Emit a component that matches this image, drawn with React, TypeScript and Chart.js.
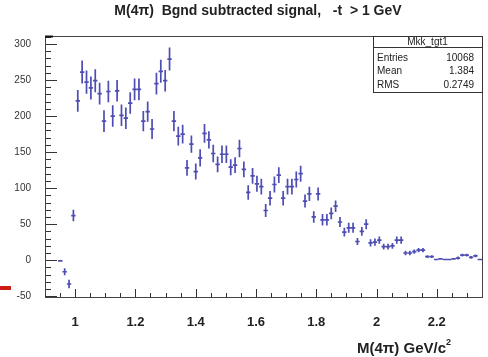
import React, { useEffect, useRef } from "react";
import { Chart, registerables } from "chart.js";

Chart.register(...registerables);

// Histogram binning (100 bins between 0.9 and 2.35)
const X_MIN = 0.9;
const X_MAX = 2.35;
const BIN_WIDTH = 0.0145;
const Y_MIN = -51;
const Y_MAX = 311;

// Bin contents (background subtracted)
const counts: (number | null)[] = [
  null, null, null, -1, -16, -33, 62, 221, 261, 247,
  239, 249, 231, 193, 234, 200, 235, 201, 197, 218,
  237, 237, 193, 206, 182, 245, 262, 249, 279, 193,
  172, 175, 128, 161, 123, 142, 176, 167, 148, 133,
  147, 147, 129, 132, 155, 126, 94, 117, 106, 102,
  69, 86, 105, 118, 86, 102, 102, 112, 120, 82,
  92, 60, 92, 56, 56, 65, 75, 53, 39, 45,
  45, 26, 40, 50, 24, 25, 28, 19, 19, 20,
  28, 28, 10, 10, 12, 14, 14, 5, 5, 1,
  2, 1, 1, 2, 3, 7, 7, 4, 6, 1,
];

// Bin errors
const errors: number[] = [
  0, 0, 0, 1, 5, 6, 8, 15, 16, 16,
  16, 16, 15, 15, 15, 15, 15, 15, 15, 15,
  15, 15, 14, 14, 14, 15, 16, 15, 16, 14,
  13, 13, 11, 12, 11, 12, 13, 12, 12, 11,
  12, 12, 11, 11, 12, 11, 10, 11, 11, 11,
  9, 10, 11, 11, 10, 11, 11, 11, 11, 9,
  10, 8, 9, 8, 8, 8, 8, 7, 6, 7,
  7, 5, 6, 7, 5, 5, 5, 4, 4, 4,
  5, 5, 3, 3, 3, 3, 3, 2, 2, 1,
  1, 1, 1, 1, 2, 2, 2, 2, 2, 1,
];

const xTickValues = [1, 1.2, 1.4, 1.6, 1.8, 2, 2.2];
const xTickLabels = ["1", "1.2", "1.4", "1.6", "1.8", "2", "2.2"];
const yTickValues = [-50, 0, 50, 100, 150, 200, 250, 300];
const yTickLabels = ["-50", "0", "50", "100", "150", "200", "250", "300"];

const TITLE = "M(4\u03c0)  Bgnd subtracted signal,   -t  > 1 GeV";
const X_TITLE = "M(4\u03c0) GeV/c";
const STATS_NAME = "Mkk_tgt1";
const statsLabels = ["Entries", "Mean", "RMS"];
const statsValues = ["10068", "1.384", "0.2749"];

const BLUE = "rgba(52, 52, 170, 0.88)";
const FONT = "'Liberation Sans', Arial, Helvetica, sans-serif";

const rootStyle = {
  id: "rootStyle",
  afterDatasetsDraw(chart: any) {
    const { ctx, scales } = chart;
    const x = scales.x;
    const y = scales.y;
    ctx.save();
    ctx.strokeStyle = BLUE;
    ctx.lineWidth = 1.7;
    counts.forEach((v, i) => {
      if (v === null) return;
      const c = X_MIN + BIN_WIDTH * (i + 0.5);
      const px = x.getPixelForValue(c);
      const py = y.getPixelForValue(v);
      ctx.beginPath();
      ctx.moveTo(x.getPixelForValue(c - BIN_WIDTH / 2), py);
      ctx.lineTo(x.getPixelForValue(c + BIN_WIDTH / 2), py);
      const e = errors[i];
      if (e > 0) {
        ctx.moveTo(px, y.getPixelForValue(v + e));
        ctx.lineTo(px, y.getPixelForValue(v - e));
      }
      ctx.stroke();
    });
    ctx.restore();
  },
  afterDraw(chart: any) {
    const { ctx, chartArea, scales } = chart;
    const x = scales.x;
    const y = scales.y;
    const { left, right, top, bottom } = chartArea;
    ctx.save();

    // ticks (inside the frame)
    ctx.strokeStyle = "#333";
    ctx.lineWidth = 1;
    ctx.beginPath();
    for (let k = 0; k <= 29; k++) {
      const v = X_MIN + k * 0.05;
      const px = Math.round(x.getPixelForValue(v)) + 0.5;
      const major = xTickValues.some((t) => Math.abs(t - v) < 1e-6);
      ctx.moveTo(px, bottom);
      ctx.lineTo(px, bottom - (major ? 8 : 4));
    }
    for (let v = -50; v <= 310; v += 10) {
      const py = Math.round(y.getPixelForValue(v)) + 0.5;
      const major = v % 50 === 0;
      ctx.moveTo(left, py);
      ctx.lineTo(left + (major ? 12 : 6), py);
    }
    ctx.stroke();

    // frame
    ctx.strokeStyle = "#444";
    ctx.lineWidth = 1;
    ctx.strokeRect(Math.round(left) + 0.5, Math.round(top) + 0.5, Math.round(right - left), Math.round(bottom - top));
    ctx.lineWidth = 2;
    ctx.strokeStyle = "#111";
    ctx.beginPath();
    ctx.moveTo(left, top + 0.5);
    ctx.lineTo(left + 8, top + 0.5);
    ctx.stroke();

    // title
    ctx.fillStyle = "#222";
    ctx.font = `bold 14px ${FONT}`;
    ctx.textAlign = "center";
    ctx.textBaseline = "middle";
    ctx.fillText(TITLE, 258, 11);

    // x-axis title
    ctx.font = `bold 15px ${FONT}`;
    ctx.textAlign = "right";
    ctx.fillText(X_TITLE, 446, 349);
    ctx.font = `bold 9px ${FONT}`;
    ctx.textAlign = "left";
    ctx.fillText("2", 446, 343);

    // stats box
    const bx0 = 373, bx1 = right, by0 = top, by1 = 92, hy = 47.5;
    ctx.fillStyle = "#fff";
    ctx.fillRect(bx0, by0, bx1 - bx0, by1 - by0);
    ctx.strokeStyle = "#333";
    ctx.lineWidth = 1;
    ctx.strokeRect(bx0 + 0.5, by0 + 0.5, bx1 - bx0, by1 - by0);
    ctx.beginPath();
    ctx.moveTo(bx0, hy);
    ctx.lineTo(bx1, hy);
    ctx.stroke();
    ctx.fillStyle = "#222";
    ctx.font = `10px ${FONT}`;
    ctx.textAlign = "center";
    ctx.fillText(STATS_NAME, (bx0 + bx1) / 2, 42);
    const rowsY = [58.5, 71.5, 85];
    statsLabels.forEach((lab, i) => {
      ctx.textAlign = "left";
      ctx.fillText(lab, 377, rowsY[i]);
      ctx.textAlign = "right";
      ctx.fillText(statsValues[i], 474, rowsY[i]);
    });

    // red mark on the left edge
    ctx.fillStyle = "#cc1a14";
    ctx.fillRect(0, 286, 11, 4);

    ctx.restore();
  },
};

export default function App() {
  const ref = useRef<HTMLCanvasElement | null>(null);

  useEffect(() => {
    if (!ref.current) return;
    const points = counts
      .map((v, i) => (v === null ? null : { x: X_MIN + BIN_WIDTH * (i + 0.5), y: v }))
      .filter((p) => p !== null);
    const chart = new Chart(ref.current, {
      type: "scatter",
      data: {
        datasets: [
          {
            data: points as any,
            pointRadius: 0,
            pointHoverRadius: 0,
            showLine: false,
            borderColor: BLUE,
            backgroundColor: BLUE,
          },
        ],
      },
      options: {
        animation: false,
        responsive: false,
        devicePixelRatio: 1,
        events: [],
        layout: { padding: { top: 36, right: 6, left: 0, bottom: 0 } },
        plugins: { legend: { display: false }, tooltip: { enabled: false }, title: { display: false } },
        scales: {
          x: {
            type: "linear",
            min: X_MIN,
            max: X_MAX,
            grid: { display: false },
            border: { display: false },
            afterBuildTicks: (s: any) => {
              s.ticks = xTickValues.map((v) => ({ value: v }));
            },
            afterFit: (s: any) => {
              s.height = 60;
            },
            ticks: {
              autoSkip: false,
              maxRotation: 0,
              padding: 10,
              color: "#222",
              font: { family: FONT, size: 13, weight: "bold" },
              callback: (_v: any, i: number) => xTickLabels[i],
            },
          },
          y: {
            type: "linear",
            min: Y_MIN,
            max: Y_MAX,
            grid: { display: false },
            border: { display: false },
            afterBuildTicks: (s: any) => {
              s.ticks = yTickValues.map((v) => ({ value: v }));
            },
            afterFit: (s: any) => {
              s.width = 45;
            },
            ticks: {
              autoSkip: false,
              padding: 6,
              color: "#333",
              font: { family: FONT, size: 10 },
              callback: (_v: any, i: number) => yTickLabels[i],
            },
          },
        },
      },
      plugins: [rootStyle],
    });
    return () => chart.destroy();
  }, []);

  return (
    <div style={{ position: "fixed", left: 0, top: 0, width: 488, height: 357, background: "#fff" }}>
      <canvas ref={ref} width={488} height={357} style={{ display: "block" }} />
    </div>
  );
}
